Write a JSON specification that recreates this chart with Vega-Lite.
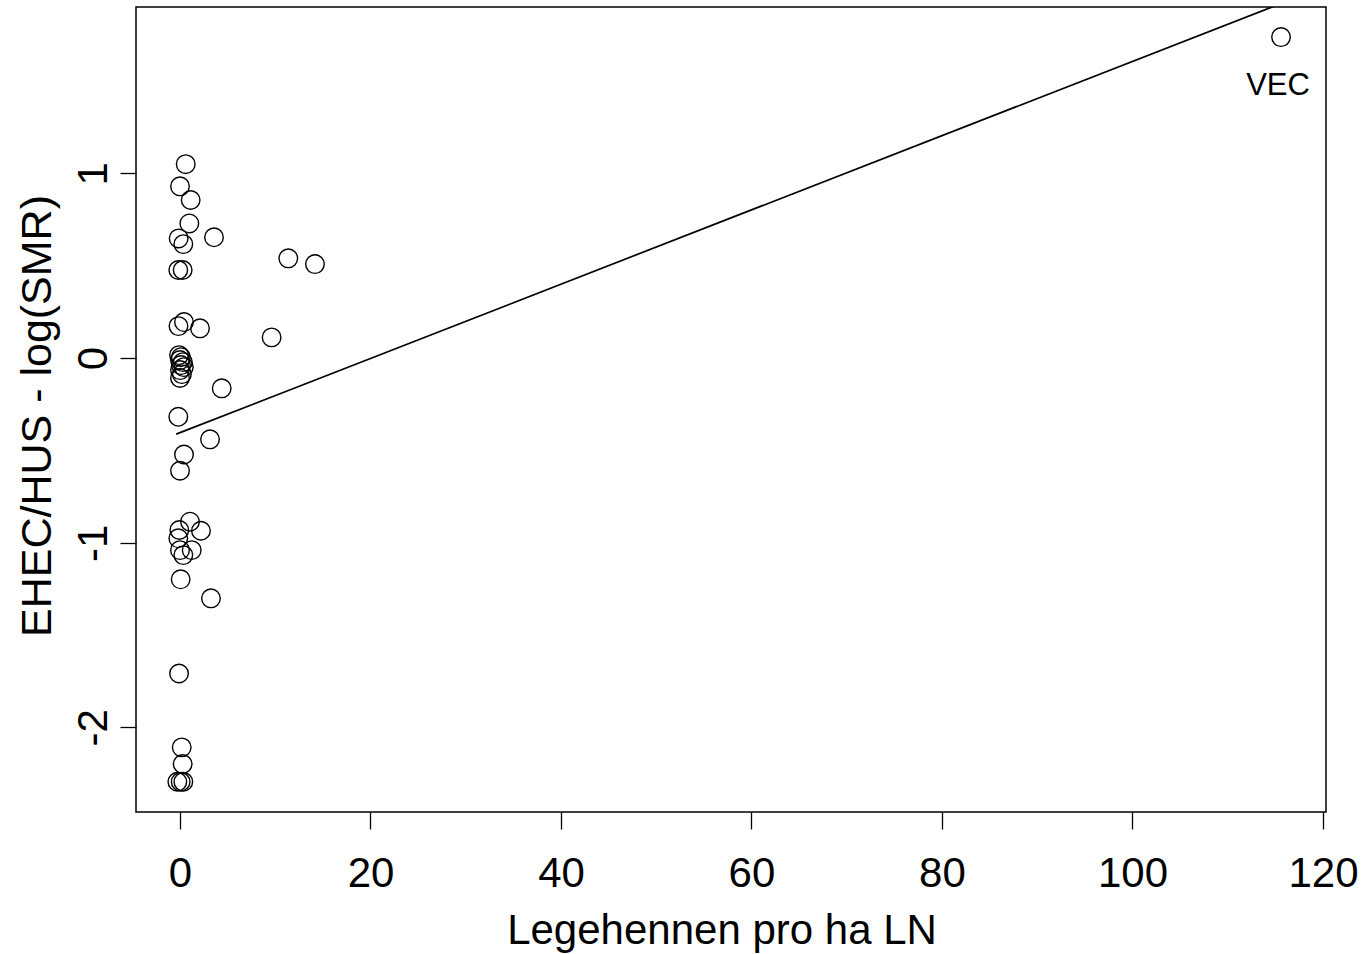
{
  "$schema": "https://vega.github.io/schema/vega-lite/v6.json",
  "width": 1190,
  "height": 805,
  "autosize": {"type": "none"},
  "padding": {"left": 136, "top": 7, "right": 36, "bottom": 142},
  "background": "white",
  "config": {
    "view": {"stroke": "black", "strokeWidth": 1.5},
    "font": "Liberation Sans"
  },
  "datasets": {
    "points": [
      {"x": 0.6, "y": 1.05, "label": ""},
      {"x": 0.0, "y": 0.93, "label": ""},
      {"x": 1.12, "y": 0.856, "label": ""},
      {"x": 0.98, "y": 0.729, "label": ""},
      {"x": 3.57, "y": 0.654, "label": ""},
      {"x": -0.14, "y": 0.648, "label": ""},
      {"x": 0.35, "y": 0.617, "label": ""},
      {"x": -0.18, "y": 0.477, "label": ""},
      {"x": 0.28, "y": 0.477, "label": ""},
      {"x": 11.37, "y": 0.54, "label": ""},
      {"x": 14.17, "y": 0.509, "label": ""},
      {"x": -0.16, "y": 0.173, "label": ""},
      {"x": 0.42, "y": 0.195, "label": ""},
      {"x": 2.1, "y": 0.161, "label": ""},
      {"x": 9.62, "y": 0.112, "label": ""},
      {"x": -0.1, "y": 0.016, "label": ""},
      {"x": 0.1, "y": 0.005, "label": ""},
      {"x": 0.0, "y": -0.011, "label": ""},
      {"x": 0.3, "y": -0.022, "label": ""},
      {"x": 0.1, "y": -0.038, "label": ""},
      {"x": 0.4, "y": -0.049, "label": ""},
      {"x": 0.0, "y": -0.065, "label": ""},
      {"x": 0.2, "y": -0.087, "label": ""},
      {"x": 0.0, "y": -0.108, "label": ""},
      {"x": 4.38, "y": -0.164, "label": ""},
      {"x": -0.18, "y": -0.318, "label": ""},
      {"x": 3.15, "y": -0.44, "label": ""},
      {"x": 0.42, "y": -0.522, "label": ""},
      {"x": 0.0, "y": -0.61, "label": ""},
      {"x": 1.05, "y": -0.886, "label": ""},
      {"x": -0.07, "y": -0.931, "label": ""},
      {"x": 2.2, "y": -0.935, "label": ""},
      {"x": -0.18, "y": -0.976, "label": ""},
      {"x": 0.0, "y": -1.04, "label": ""},
      {"x": 1.23, "y": -1.04, "label": ""},
      {"x": 0.35, "y": -1.067, "label": ""},
      {"x": 0.07, "y": -1.198, "label": ""},
      {"x": 3.25, "y": -1.301, "label": ""},
      {"x": -0.1, "y": -1.708, "label": ""},
      {"x": 0.18, "y": -2.108, "label": ""},
      {"x": 0.28, "y": -2.198, "label": ""},
      {"x": -0.28, "y": -2.294, "label": ""},
      {"x": 0.35, "y": -2.294, "label": ""},
      {"x": 0.07, "y": -2.294, "label": ""},
      {"x": 115.6, "y": 1.738, "label": "VEC"}
    ],
    "fit": [
      {"x": -0.4, "y": -0.412},
      {"x": 115.6, "y": 1.92}
    ]
  },
  "encoding": {
    "x": {
      "field": "x",
      "type": "quantitative",
      "scale": {"domain": [-4.62, 120.32], "nice": false, "zero": false},
      "axis": {
        "title": "Legehennen pro ha LN",
        "values": [0, 20, 40, 60, 80, 100, 120],
        "domain": false,
        "grid": false,
        "ticks": true,
        "tickSize": 17,
        "tickColor": "black",
        "tickWidth": 1.3,
        "labelFont": "Liberation Sans",
        "labelFontSize": 42,
        "labelColor": "black",
        "labelPadding": 57,
        "labelBaseline": "alphabetic",
        "labelFlush": false,
        "labelOverlap": false,
        "titleFont": "Liberation Sans",
        "titleFontSize": 42,
        "titleFontWeight": "normal",
        "titleColor": "black",
        "titleX": 585.5,
        "titleY": 131.3,
        "titleBaseline": "alphabetic",
        "titleAlign": "center",
        "titleAngle": 0
      }
    },
    "y": {
      "field": "y",
      "type": "quantitative",
      "scale": {"domain": [-2.458, 1.901], "nice": false, "zero": false},
      "axis": {
        "title": "EHEC/HUS - log(SMR)",
        "values": [-2, -1, 0, 1],
        "domain": false,
        "grid": false,
        "ticks": true,
        "tickSize": 16,
        "tickColor": "black",
        "tickWidth": 1.3,
        "labelAngle": -90,
        "labelAlign": "center",
        "labelBaseline": "alphabetic",
        "labelPadding": 13.3,
        "labelFont": "Liberation Sans",
        "labelFontSize": 42,
        "labelColor": "black",
        "labelFlush": false,
        "labelOverlap": false,
        "labelExpr": "datum.value < 0 ? '-' + abs(datum.value) : '' + datum.value",
        "titleFont": "Liberation Sans",
        "titleFontSize": 43,
        "titleFontWeight": "normal",
        "titleColor": "black",
        "titleAngle": 270,
        "titleX": -86,
        "titleY": 408.5,
        "titleBaseline": "alphabetic",
        "titleAlign": "center"
      }
    }
  },
  "layer": [
    {
      "data": {"name": "fit"},
      "mark": {"type": "line", "color": "black", "strokeWidth": 1.7, "clip": true}
    },
    {
      "data": {"name": "points"},
      "mark": {"type": "point", "shape": "circle", "filled": false, "color": "black", "size": 345, "strokeWidth": 1.4, "opacity": 1}
    },
    {
      "data": {"name": "points"},
      "transform": [{"filter": "datum.label != ''"}],
      "mark": {"type": "text", "font": "Liberation Sans", "fontSize": 31, "dy": 58, "dx": -3, "baseline": "alphabetic", "align": "center", "color": "black"},
      "encoding": {"text": {"field": "label"}}
    }
  ]
}
